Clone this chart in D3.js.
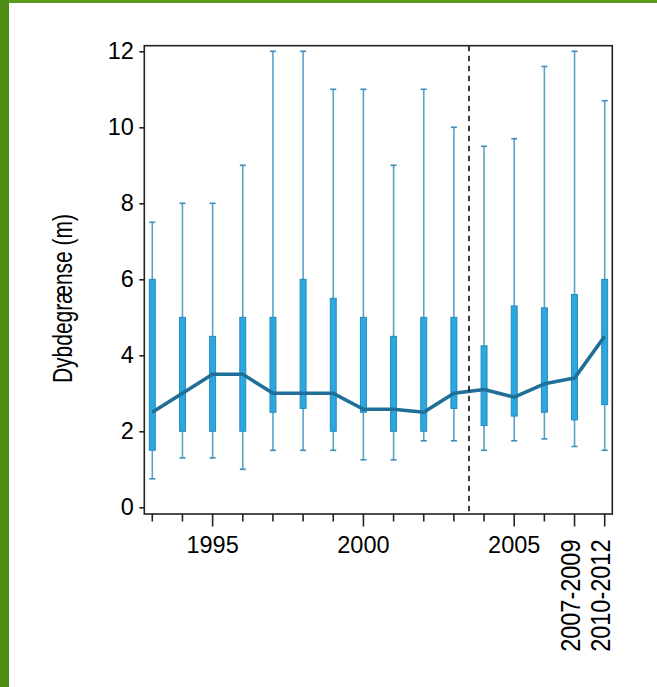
<!DOCTYPE html>
<html>
<head>
<meta charset="utf-8">
<script src="https://cdn.jsdelivr.net/npm/d3@7"></script>
<style>
  html, body { margin: 0; padding: 0; background: #fff; }
  svg { display: block; }
  text { font-family: "Liberation Sans", Arial, sans-serif; fill: #000; }
</style>
</head>
<body>
<svg id="chart" width="657" height="687"></svg>
<script>
// Survey periods (single years, then two multi-year periods)
const categories = ["1993","1994","1995","1996","1997","1998","1999","2000",
  "2001","2002","2003","2004","2005","2006","2007-2009","2010-2012"];

// Depth limit statistics per period (m)
const whiskerLow  = [0.75, 1.3, 1.3, 1.0, 1.5, 1.5, 1.5, 1.25, 1.25, 1.75, 1.75, 1.5, 1.75, 1.8, 1.6, 1.5];
const boxLow      = [1.5, 2.0, 2.0, 2.0, 2.5, 2.6, 2.0, 2.5, 2.0, 2.0, 2.6, 2.15, 2.4, 2.5, 2.3, 2.7];
const median      = [2.5, 3.0, 3.5, 3.5, 3.0, 3.0, 3.0, 2.58, 2.58, 2.5, 3.0, 3.1, 2.9, 3.25, 3.4, 4.5];
const boxHigh     = [6.0, 5.0, 4.5, 5.0, 5.0, 6.0, 5.5, 5.0, 4.5, 5.0, 5.0, 4.25, 5.3, 5.25, 5.6, 6.0];
const whiskerHigh = [7.5, 8.0, 8.0, 9.0, 12.0, 12.0, 11.0, 11.0, 9.0, 11.0, 10.0, 9.5, 9.7, 11.6, 12.0, 10.7];

// Labelled x ticks
const horizontalLabels = ["1995", "2000", "2005"];
const rotatedLabels = ["2007-2009", "2010-2012"];
const yTicks = [0, 2, 4, 6, 8, 10, 12];
const yLabel = "Dybdegrænse (m)";

const svg = d3.select("#chart");

// Green page frame
svg.append("rect").attr("x", 0).attr("y", 0).attr("width", 657).attr("height", 3).attr("fill", "#5c9c1d");
svg.append("rect").attr("x", 0).attr("y", 0).attr("width", 9).attr("height", 687).attr("fill", "#4d8b14");

const frame = { left: 144.3, right: 612.3, top: 45.7, bottom: 514 };

const x = d3.scalePoint().domain(categories).range([152.3, 604.7]);
const y = d3.scaleLinear().domain([0, 12]).range([507.3, 51.3]);

const data = categories.map((c, i) => ({
  cat: c, lo: whiskerLow[i], q1: boxLow[i], med: median[i], q3: boxHigh[i], hi: whiskerHigh[i]
}));

// Whiskers
const whiskerColor = "#5ca2c6";
const capColor = "#3b8dbb";
const g = svg.append("g");
g.selectAll("line.wh").data(data).join("line")
  .attr("x1", d => x(d.cat)).attr("x2", d => x(d.cat))
  .attr("y1", d => y(d.lo)).attr("y2", d => y(d.hi))
  .attr("stroke", whiskerColor).attr("stroke-width", 1.6);
g.selectAll("line.capHi").data(data).join("line")
  .attr("x1", d => x(d.cat) - 3).attr("x2", d => x(d.cat) + 3)
  .attr("y1", d => y(d.hi)).attr("y2", d => y(d.hi))
  .attr("stroke", capColor).attr("stroke-width", 1.6);
g.selectAll("line.capLo").data(data).join("line")
  .attr("x1", d => x(d.cat) - 3).attr("x2", d => x(d.cat) + 3)
  .attr("y1", d => y(d.lo)).attr("y2", d => y(d.lo))
  .attr("stroke", capColor).attr("stroke-width", 1.6);

// Boxes (interquartile range)
g.selectAll("rect.box").data(data).join("rect")
  .attr("x", d => x(d.cat) - 3).attr("width", 6)
  .attr("y", d => y(d.q3)).attr("height", d => y(d.q1) - y(d.q3))
  .attr("fill", "#2aa8df").attr("stroke", "#1f86b8").attr("stroke-width", 0.9);

// Median line
svg.append("path").datum(data)
  .attr("d", d3.line().x(d => x(d.cat)).y(d => y(d.med)))
  .attr("fill", "none").attr("stroke", "#1f6f98").attr("stroke-width", 3.6)
  .attr("stroke-linejoin", "round");

// Divider between 2003 and 2004
const divX = (x("2003") + x("2004")) / 2;
svg.append("line")
  .attr("x1", divX).attr("x2", divX).attr("y1", frame.top).attr("y2", frame.bottom)
  .attr("stroke", "#000").attr("stroke-width", 1.5).attr("stroke-dasharray", "5.5,4.5");

// Plot frame
svg.append("rect")
  .attr("x", frame.left).attr("y", frame.top)
  .attr("width", frame.right - frame.left).attr("height", frame.bottom - frame.top)
  .attr("fill", "none").attr("stroke", "#222").attr("stroke-width", 1.6);

// Y axis ticks and labels
const yAxis = svg.append("g").attr("transform", `translate(${frame.left},0)`)
  .call(d3.axisLeft(y).tickValues(yTicks).tickSize(5).tickPadding(5.5).tickFormat(d3.format("d")));
yAxis.select(".domain").remove();
yAxis.selectAll(".tick line").attr("stroke", "#222").attr("stroke-width", 1.6);
yAxis.selectAll(".tick text").attr("font-size", 23.5).attr("fill", "#000")
  .attr("font-family", "'Liberation Sans', Arial, sans-serif");

// X axis ticks
const labelled = new Set(horizontalLabels.concat(rotatedLabels));
svg.append("g").selectAll("line").data(categories).join("line")
  .attr("x1", d => x(d)).attr("x2", d => x(d))
  .attr("y1", frame.bottom).attr("y2", d => frame.bottom + (labelled.has(d) ? 12.5 : 7.5))
  .attr("stroke", "#222").attr("stroke-width", 1.6);

svg.append("g").selectAll("text").data(horizontalLabels).join("text")
  .attr("x", d => x(d)).attr("y", 552.7)
  .attr("text-anchor", "middle").attr("font-size", 23.5)
  .text(d => d);

svg.append("g").selectAll("text").data(rotatedLabels).join("text")
  .attr("transform", d => `translate(${x(d) + 5.5},539.5) rotate(-90) scale(1,1.15)`)
  .attr("text-anchor", "end").attr("font-size", 23.5)
  .text(d => d);

// Y axis title
svg.append("text")
  .attr("transform", "translate(72,298.5) rotate(-90) scale(1,1.3)")
  .attr("text-anchor", "middle").attr("font-size", 21)
  .text(yLabel);
</script>
</body>
</html>
